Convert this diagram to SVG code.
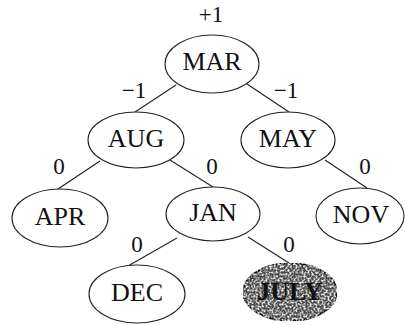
<svg xmlns="http://www.w3.org/2000/svg" width="405" height="325" viewBox="0 0 405 325">
<style>
.n{fill:#fff;stroke:#222;stroke-width:1.1}
.t{font-family:"Liberation Serif","Times New Roman",serif;font-size:26px;fill:#111;text-anchor:middle}
.b{font-family:"Liberation Serif","Times New Roman",serif;font-size:23px;fill:#111;text-anchor:middle}
.e{stroke:#222;stroke-width:1.1;fill:none}
</style>
<defs>
<filter id="grain" x="0" y="0" width="100%" height="100%">
<feTurbulence type="fractalNoise" baseFrequency="0.5" numOctaves="3" seed="7" result="noise"/>
<feColorMatrix in="noise" type="matrix" values="0 0 0 0 1  0 0 0 0 1  0 0 0 0 1  3 0 0 0 -1.35" result="light"/>
<feComposite in="light" in2="SourceGraphic" operator="in" result="l2"/>
<feMerge><feMergeNode in="SourceGraphic"/><feMergeNode in="l2"/></feMerge>
</filter>
</defs>
<g id="edges">
<line class="e" x1="176" y1="85" x2="135" y2="112"/>
<line class="e" x1="247" y1="84" x2="289" y2="112"/>
<line class="e" x1="100" y1="161" x2="58" y2="189"/>
<line class="e" x1="170" y1="160" x2="213" y2="187"/>
<line class="e" x1="325" y1="160" x2="367" y2="188"/>
<line class="e" x1="177" y1="238" x2="128" y2="266"/>
<line class="e" x1="248" y1="237" x2="289" y2="263"/>
</g>
<g id="balances">
<text class="b" x="211" y="22">+1</text>
<text class="b" x="134" y="98">−1</text>
<text class="b" x="286" y="98">−1</text>
<text class="b" x="59" y="174">0</text>
<text class="b" x="212" y="174">0</text>
<text class="b" x="365" y="174">0</text>
<text class="b" x="137" y="252">0</text>
<text class="b" x="289" y="252">0</text>
</g>
<g id="MAR"><ellipse class="n" cx="212" cy="64" rx="47" ry="29"/><text class="t" x="212" y="70">MAR</text></g>
<g id="AUG"><ellipse class="n" cx="136" cy="140" rx="48" ry="28"/><text class="t" x="136" y="147">AUG</text></g>
<g id="MAY"><ellipse class="n" cx="288" cy="140" rx="47" ry="28"/><text class="t" x="288" y="147">MAY</text></g>
<g id="APR"><ellipse class="n" cx="60" cy="218" rx="48" ry="29"/><text class="t" x="60" y="225">APR</text></g>
<g id="JAN"><ellipse class="n" cx="213" cy="214" rx="47" ry="27"/><text class="t" x="213" y="221">JAN</text></g>
<g id="NOV"><ellipse class="n" cx="360" cy="216" rx="44" ry="28"/><text class="t" x="361" y="223">NOV</text></g>
<g id="DEC"><ellipse class="n" cx="137" cy="294" rx="48" ry="29"/><text class="t" x="137" y="301">DEC</text></g>
<g id="JULY"><ellipse cx="290" cy="292" rx="47" ry="29" fill="#4a4a4a" stroke="#111" stroke-width="1.5" filter="url(#grain)"/><text class="t" x="290" y="300" font-weight="bold">JULY</text></g>
</svg>
